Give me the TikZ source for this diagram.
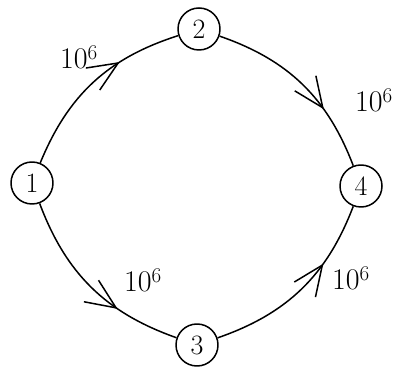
\documentclass[tikz,border=0pt]{standalone}
\usepackage{fontspec}
\usepackage{tikz}
\usetikzlibrary{arrows.meta,decorations.markings}
\tikzset{
  state/.style={draw,circle,line width=1.5pt,minimum size=42pt,inner sep=0pt,
    font=\fontsize{28}{28}\selectfont},
  flow/.style={line width=1.5pt,postaction={decorate},
    decoration={markings,mark=at position 0.67 with
      {\arrow{Straight Barb[length=30pt,width=26pt,line width=1.5pt]}}}},
  wt/.style={font=\fontsize{30}{30}\selectfont,inner sep=1pt}
}

\begin{document}
\begin{tikzpicture}[x=1pt,y=1pt,line join=round]
  \useasboundingbox (0,0) rectangle (396,372);
  % states
  \node[state] (n1) at (32,189) {1};
  \node[state] (n2) at (199,343) {2};
  \node[state] (n3) at (197,27) {3};
  \node[state] (n4) at (361,186) {4};
  % flows
  \draw[flow] (n1) to[bend left=25] (n2);
  \draw[flow] (n2) to[bend left=25] (n4);
  \draw[flow] (n1) to[bend right=25] (n3);
  \draw[flow] (n3) to[bend right=25] (n4);
  % weights
  \node[wt] (w12) at (79,315) {10\textsuperscript{6}};
  \node[wt] (w24) at (374,272) {10\textsuperscript{6}};
  \node[wt] (w13) at (143,92) {10\textsuperscript{6}};
  \node[wt] (w34) at (351,94) {10\textsuperscript{6}};
\end{tikzpicture}
\end{document}
